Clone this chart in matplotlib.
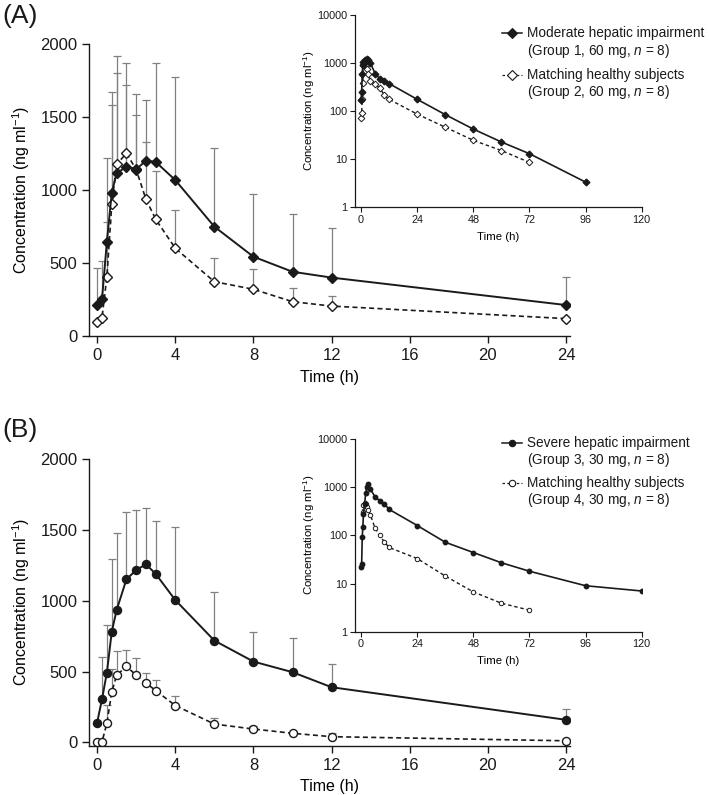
import matplotlib
matplotlib.use("Agg")
import matplotlib.pyplot as plt
from matplotlib.lines import Line2D

plt.rcParams['font.family'] = ['Liberation Sans', 'DejaVu Sans']
plt.rcParams['mathtext.fontset'] = 'custom'
plt.rcParams['mathtext.rm'] = 'Liberation Sans'
plt.rcParams['mathtext.it'] = 'Liberation Sans:italic'

# ---- data: linear plots, 0-24 h (mean, + SD) ----
time_h = [0, 0.25, 0.5, 0.75, 1, 1.5, 2, 2.5, 3, 4, 6, 8, 10, 12, 24]

g1_mean = [212, 251, 646, 982, 1114, 1160, 1142, 1201, 1192, 1068, 749, 543, 440, 400, 212]
g1_sd = [252, 265, 571, 691, 806, 712, 516, 415, 676, 704, 541, 427, 393, 337, 192]
g2_mean = [98, 126, 406, 902, 1176, 1251, 1140, 936, 799, 601, 372, 320, 235, 205, 119]
g2_sd = [0, 0, 377, 678, 628, 468, 376, 391, 333, 262, 160, 141, 96, 69, 0]

g3_mean = [140, 305, 493, 782, 935, 1151, 1217, 1257, 1189, 1005, 719, 571, 496, 390, 160]
g3_sd = [0, 300, 336, 510, 541, 477, 423, 395, 376, 513, 343, 209, 244, 167, 78]
g4_mean = [0, 5, 135, 357, 474, 538, 474, 420, 366, 261, 130, 95, 65, 41, 12]
g4_sd = [0, 0, 130, 161, 174, 115, 120, 73, 75, 67, 41, 21, 11, 24, 0]

# ---- data: log insets, 0-120 h ----
log_t1 = [0, 0.25, 0.5, 0.75, 1, 1.5, 2, 2.5, 3, 4, 6, 8, 10, 12, 24, 36, 48, 60, 72, 96]
log_g1 = [173, 249, 601, 896, 1050, 1150, 1100, 1200, 1180, 1000, 600, 470, 416, 372, 175, 84, 42, 22.6, 12.9, 3.3]
log_t2 = [0, 0.25, 0.5, 0.75, 1, 1.5, 2, 2.5, 3, 4, 6, 8, 10, 12, 24, 36, 48, 60, 72]
log_g2 = [73, 93, 178, 381, 896, 970, 900, 760, 582, 420, 360, 302, 212, 175, 86, 46, 24.5, 15, 8.5]

log_t3 = [0, 0.25, 0.5, 0.75, 1, 1.5, 2, 2.5, 3, 4, 6, 8, 10, 12, 24, 36, 48, 60, 72, 96, 120]
log_g3 = [22, 26, 94, 147, 277, 446, 765, 1020, 1160, 900, 631, 522, 446, 346, 160, 72, 44, 27, 18, 9.0, 7.0]
log_t4 = [0.75, 1, 1.5, 2, 2.5, 3, 4, 6, 8, 10, 12, 24, 36, 48, 60, 72]
log_g4 = [300, 420, 470, 440, 380, 340, 264, 140, 101, 72, 56, 33, 14.3, 6.7, 3.9, 2.8]

legend_a = [("Moderate hepatic impairment", "(Group 1, 60 mg, $n$ = 8)"),
            ("Matching healthy subjects", "(Group 2, 60 mg, $n$ = 8)")]
legend_b = [("Severe hepatic impairment", "(Group 3, 30 mg, $n$ = 8)"),
            ("Matching healthy subjects", "(Group 4, 30 mg, $n$ = 8)")]

W, H = 709, 795
ink = '#1a1a1a'
bar_col = '#808080'
dash = (0, (3, 2))


def fx(px):
    return px / W


def fy(py):
    return 1 - py / H


def style_main(ax, ybottom):
    ax.set_xlim(-0.4, 24.2)
    ax.set_ylim(ybottom, 2000)
    ax.set_xticks([0, 4, 8, 12, 16, 20, 24])
    ax.set_yticks([0, 500, 1000, 1500, 2000])
    ax.spines['top'].set_visible(False)
    ax.spines['right'].set_visible(False)
    for s in ['left', 'bottom']:
        ax.spines[s].set_color(ink)
        ax.spines[s].set_linewidth(1.0)
    ax.tick_params(labelsize=12, length=5, width=1.0, colors=ink)
    ax.set_xlabel('Time (h)', fontsize=11.5, labelpad=5)
    ax.set_ylabel('Concentration (ng ml$^{-1}$)', fontsize=11.5, labelpad=6)


def style_inset(ax):
    ax.set_yscale('log')
    ax.set_xlim(-2.6, 120)
    ax.set_ylim(1, 10000)
    ax.set_xticks([0, 24, 48, 72, 96, 120])
    ax.set_yticks([1, 10, 100, 1000, 10000])
    ax.set_yticklabels(['1', '10', '100', '1000', '10000'])
    ax.minorticks_off()
    ax.spines['top'].set_visible(False)
    ax.spines['right'].set_visible(False)
    for s in ['left', 'bottom']:
        ax.spines[s].set_color(ink)
        ax.spines[s].set_linewidth(0.9)
    ax.tick_params(labelsize=7.8, length=3.5, width=0.8, pad=2, colors=ink)
    ax.set_xlabel('Time (h)', fontsize=8.2, labelpad=5)
    ax.set_ylabel('Concentration (ng ml$^{-1}$)', fontsize=8.2, labelpad=0)
    ax.patch.set_alpha(0)


def draw_main(ax, m1, s1, m2, s2, marker, ms):
    low = [0] * len(time_h)
    ax.errorbar(time_h, m1, yerr=[low, s1], fmt='none', ecolor=bar_col,
                elinewidth=0.9, capsize=3, capthick=0.9, zorder=1)
    ax.errorbar(time_h, m2, yerr=[low, s2], fmt='none', ecolor=bar_col,
                elinewidth=0.9, capsize=3, capthick=0.9, zorder=1)
    ax.plot(time_h, m2, linestyle=dash, color=ink, lw=1.2, marker=marker, ms=ms,
            mfc='white', mec=ink, mew=1.0, zorder=3)
    ax.plot(time_h, m1, linestyle='-', color=ink, lw=1.4, marker=marker, ms=ms,
            mfc=ink, mec=ink, zorder=4)


def draw_inset(ax, t1, v1, t2, v2, marker, ms):
    ax.plot(t2, v2, linestyle=(0, (2.5, 2)), color=ink, lw=1.0, marker=marker, ms=ms,
            mfc='white', mec=ink, mew=0.7, zorder=3)
    ax.plot(t1, v1, linestyle='-', color=ink, lw=1.2, marker=marker, ms=ms,
            mfc=ink, mec=ink, zorder=4)


def draw_legend(fig, labels, y_rows, marker, ms):
    for i, (top, bottom) in enumerate(labels):
        y = y_rows[i]
        ls = '-' if i == 0 else (0, (2, 1.8))
        fig.add_artist(Line2D([fx(502), fx(522)], [fy(y), fy(y)], transform=fig.transFigure,
                              color=ink, lw=1.1 if i == 0 else 0.9, linestyle=ls))
        fig.add_artist(Line2D([fx(512)], [fy(y)], transform=fig.transFigure, marker=marker,
                              ms=ms, mfc=ink if i == 0 else 'white', mec=ink, mew=0.8,
                              linestyle='none'))
        fig.text(fx(527), fy(y), top, fontsize=9.8, va='center', ha='left', color=ink)
        fig.text(fx(527), fy(y + 17.5), bottom, fontsize=9.8, va='center', ha='left', color=ink)


fig = plt.figure(figsize=(7.09, 7.95), dpi=100)

# panel A
axA = fig.add_axes([fx(89.3), fy(336), fx(570 - 89.3), (336 - 44) / H])
style_main(axA, 0)
draw_main(axA, g1_mean, g1_sd, g2_mean, g2_sd, 'D', 5.5)

inA = fig.add_axes([fx(355), fy(207), fx(641.7 - 355), (207 - 15) / H])
style_inset(inA)
draw_inset(inA, log_t1, log_g1, log_t2, log_g2, 'D', 3.4)
draw_legend(fig, legend_a, [33.3, 74.7], 'D', 5)

# panel B
ybot_b = -22.6
axB = fig.add_axes([fx(89.3), fy(745.7), fx(570 - 89.3), (745.7 - 459) / H])
style_main(axB, ybot_b)
draw_main(axB, g3_mean, g3_sd, g4_mean, g4_sd, 'o', 5.8)

inB = fig.add_axes([fx(355), fy(631.7), fx(641.7 - 355), (631.7 - 439) / H])
style_inset(inB)
draw_inset(inB, log_t3, log_g3, log_t4, log_g4, 'o', 3.2)
draw_legend(fig, legend_b, [442.7, 482.7], 'o', 4.6)

fig.text(fx(2), fy(16), '(A)', fontsize=19, va='center', ha='left', color=ink)
fig.text(fx(2), fy(430), '(B)', fontsize=19, va='center', ha='left', color=ink)

fig.savefig('out.png', dpi=100)
